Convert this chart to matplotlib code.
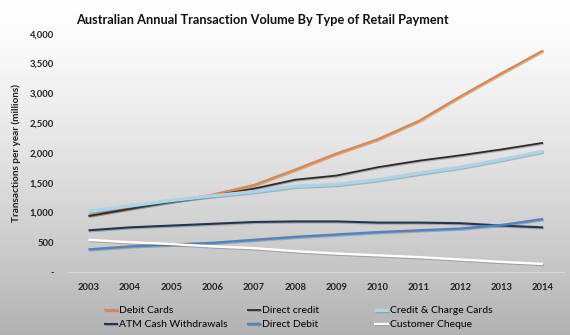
import numpy as np
import matplotlib
matplotlib.use("Agg")
import matplotlib.pyplot as plt
import matplotlib.patheffects as pe
from matplotlib.ticker import FuncFormatter

years = [2003, 2004, 2005, 2006, 2007, 2008, 2009, 2010, 2011, 2012, 2013, 2014]

debit_cards = [950, 1070, 1180, 1300, 1460, 1720, 1990, 2230, 2540, 2950, 3340, 3720]
direct_credit = [940, 1060, 1180, 1280, 1400, 1550, 1620, 1760, 1870, 1960, 2060, 2170]
credit_cards = [1020, 1110, 1200, 1280, 1350, 1440, 1470, 1550, 1660, 1760, 1890, 2030]
atm_withdrawals = [700, 750, 780, 810, 840, 850, 850, 830, 830, 820, 780, 750]
direct_debit = [380, 430, 460, 490, 540, 590, 630, 670, 700, 730, 790, 890]
customer_cheque = [540, 500, 470, 430, 400, 350, 310, 280, 250, 210, 170, 135]

series = [
    ("Debit Cards", debit_cards, "#e8843f", 1.6),
    ("Direct credit", direct_credit, "#2b2b2b", 1.3),
    ("Credit & Charge Cards", credit_cards, "#a8d4ec", 2.4),
    ("ATM Cash Withdrawals", atm_withdrawals, "#1f3657", 1.5),
    ("Direct Debit", direct_debit, "#4f84c4", 1.7),
    ("Customer Cheque", customer_cheque, "#ffffff", 1.7),
]

plt.rcParams["font.family"] = ["Lato", "DejaVu Sans"]

fig = plt.figure(figsize=(5.7, 3.35), dpi=100)

# vertical grey gradient behind everything
bg = fig.add_axes([0, 0, 1, 1], zorder=-10)
grad = np.linspace(0, 1, 256) ** 1.3
shade = 1.0 - 0.30 * grad
img = np.stack([shade, shade, shade], axis=-1)[:, None, :]
bg.imshow(img, aspect="auto", extent=[0, 1, 0, 1], origin="upper")
bg.axis("off")

ax = fig.add_axes([0.119, 0.188, 0.870, 0.711])
ax.patch.set_alpha(0)

x = np.arange(len(years))
shadow = [pe.SimpleLineShadow(offset=(0.6, -0.8), shadow_color="#555555", alpha=0.35), pe.Normal()]
lines = []
for name, vals, color, lw in series:
    ln, = ax.plot(x, vals, color=color, lw=lw, label=name, path_effects=shadow,
                  solid_capstyle="butt")
    lines.append(ln)

ax.set_xlim(-0.5, len(years) - 0.5)
ax.set_ylim(0, 4000)
ax.set_yticks(range(0, 4001, 500))
ax.yaxis.set_major_formatter(FuncFormatter(lambda v, p: "-" if v == 0 else f"{int(v):,}"))
ax.set_xticks(x)
ax.set_xticklabels([str(y) for y in years])

for s in ["top", "right", "left"]:
    ax.spines[s].set_visible(False)
ax.spines["bottom"].set_color("#d8d8d8")
ax.spines["bottom"].set_linewidth(0.8)
ax.tick_params(length=0, labelsize=6.8, colors="#222222")
ax.tick_params(axis="x", pad=8)
ax.tick_params(axis="y", pad=10)
for lab in ax.get_xticklabels() + ax.get_yticklabels():
    lab.set_fontweight("bold")

ax.set_ylabel("Transactions per year (millions)", fontsize=7.2, fontweight="bold",
              color="#222222", labelpad=6)

fig.text(0.46, 0.94, "Australian Annual Transaction Volume By Type of Retail Payment",
         ha="center", va="center", fontsize=9.2, fontweight="bold", color="#111111")

# legend laid out in three columns, filled row by row
col_x = [0.172, 0.423, 0.646]
for i, cx in enumerate(col_x):
    pair = [lines[i], lines[i + 3]]
    fig.legend(pair, [l.get_label() for l in pair], loc="lower left",
               bbox_to_anchor=(cx, 0.0), frameon=False, fontsize=7.5,
               handlelength=1.4, handletextpad=0.1, labelspacing=0.45,
               borderaxespad=0.35, borderpad=0.2)

fig.savefig("out.png", dpi=100)
